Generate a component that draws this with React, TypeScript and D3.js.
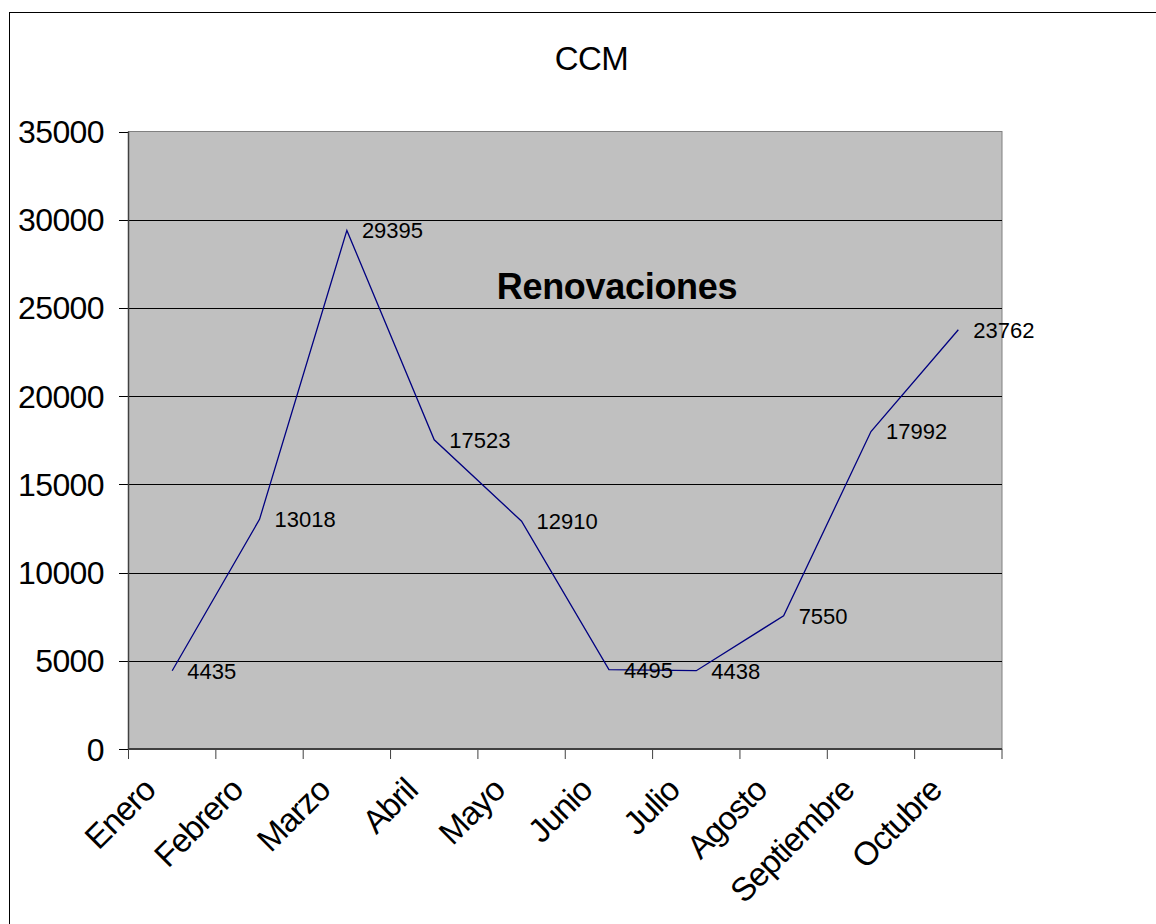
import React from "react";
import * as d3 from "d3";

const months = ["Enero", "Febrero", "Marzo", "Abril", "Mayo", "Junio", "Julio", "Agosto", "Septiembre", "Octubre"];
const renovaciones = [4435, 13018, 29395, 17523, 12910, 4495, 4438, 7550, 17992, 23762];
const yTicks = [0, 5000, 10000, 15000, 20000, 25000, 30000, 35000];
const chartTitle = "CCM";
const seriesTitle = "Renovaciones";

const W = 1156;
const H = 924;
const plot = { left: 128.5, top: 131.5, right: 1002, bottom: 749 };
const FONT = "Arial, 'Liberation Sans', sans-serif";

export default function App() {
  const x = d3.scaleBand<string>().domain(months).range([plot.left, plot.right]).padding(0);
  const y = d3.scaleLinear().domain([0, 35000]).range([plot.bottom, plot.top]);
  const cx = (m: string) => (x(m) ?? 0) + x.bandwidth() / 2;
  const line = d3
    .line<number>()
    .x((_, i) => cx(months[i]))
    .y((d) => y(d));
  const tickXs = [...months.map((m) => x(m) ?? 0), plot.right];

  return (
    <svg
      width={W}
      height={H}
      style={{ position: "absolute", left: 0, top: 0, background: "#fff" }}
      fontFamily={FONT}
    >
      <rect x={9.5} y={12.5} width={W + 20} height={H + 20} fill="#fff" stroke="#000" strokeWidth={1} />
      <text x={591.5} y={70} fontSize={33} textAnchor="middle" fill="#000" letterSpacing={-0.5}>
        {chartTitle}
      </text>
      <rect
        x={plot.left}
        y={plot.top}
        width={plot.right - plot.left}
        height={plot.bottom - plot.top}
        fill="#c0c0c0"
        stroke="#808080"
        strokeWidth={1}
      />
      {yTicks.map((t) => (
        <g key={t}>
          {t > 0 && t < 35000 && (
            <line x1={plot.left} x2={plot.right} y1={Math.round(y(t)) + 0.5} y2={Math.round(y(t)) + 0.5} stroke="#000" strokeWidth={1} />
          )}
          <line x1={119} x2={plot.left} y1={Math.round(y(t)) + 0.5} y2={Math.round(y(t)) + 0.5} stroke="#000" strokeWidth={1} />
          <text x={104} y={y(t)} dy="0.36em" fontSize={32} textAnchor="end" fill="#000" letterSpacing={-0.6}>
            {t}
          </text>
        </g>
      ))}
      <line x1={plot.left} x2={plot.left} y1={plot.top} y2={plot.bottom} stroke="#404040" strokeWidth={1.5} />
      <line x1={plot.left} x2={plot.right} y1={plot.bottom} y2={plot.bottom} stroke="#404040" strokeWidth={2} />
      {tickXs.map((tx, i) => (
        <line key={i} x1={tx} x2={tx} y1={plot.bottom} y2={759} stroke="#404040" strokeWidth={1} />
      ))}
      {months.map((m) => (
        <text
          key={m}
          transform={`translate(${cx(m) - 23},784) rotate(-45)`}
          dy="0.35em"
          fontSize={33}
          textAnchor="end"
          fill="#000"
          letterSpacing={-1}
        >
          {m}
        </text>
      ))}
      <path d={line(renovaciones) ?? ""} fill="none" stroke="#000080" strokeWidth={1.3} />
      {renovaciones.map((v, i) => (
        <text key={i} x={cx(months[i]) + 15} y={y(v)} dy="0.36em" fontSize={22} fill="#000">
          {v}
        </text>
      ))}
      <text x={617} y={299} fontSize={36} fontWeight="bold" textAnchor="middle" fill="#000" letterSpacing={-0.3}>
        {seriesTitle}
      </text>
    </svg>
  );
}
